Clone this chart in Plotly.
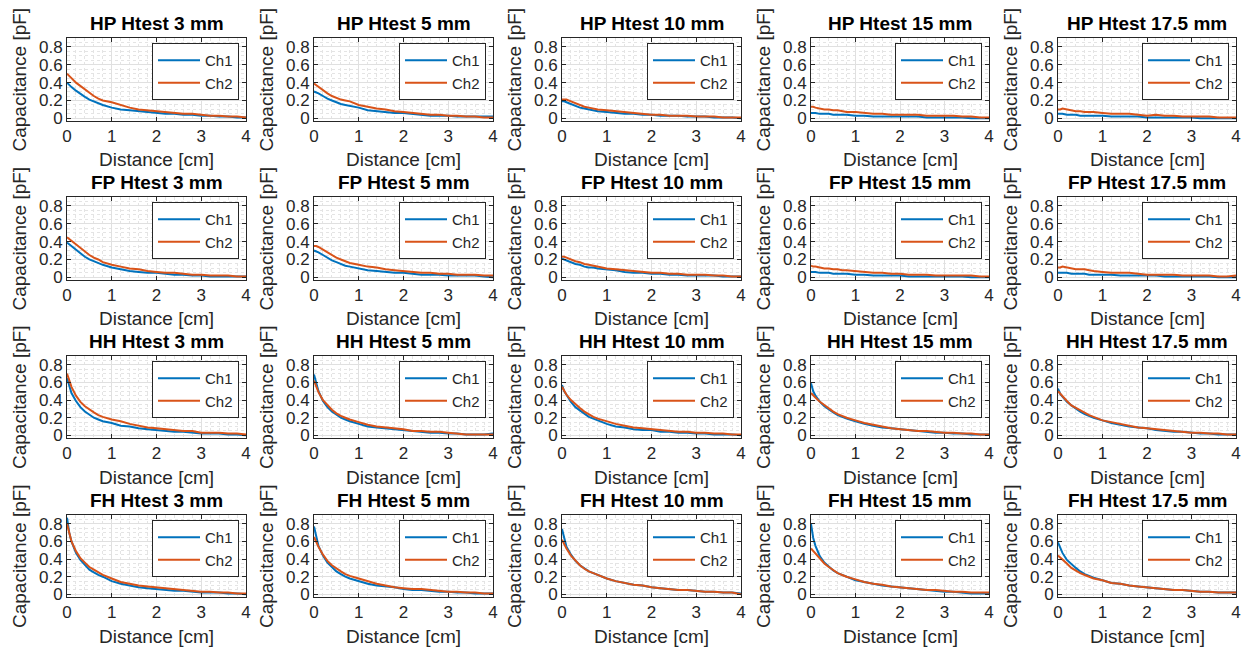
import plotly.graph_objects as go
from plotly.subplots import make_subplots

# ---------------- data ----------------
distance_cm = [0, 0.05, 0.1, 0.2, 0.3, 0.4, 0.5, 0.6, 0.7, 0.8, 1.0, 1.2, 1.4,
               1.6, 1.8, 2.0, 2.2, 2.4, 2.6, 2.8, 3.0, 3.2, 3.4, 3.6, 3.8, 4.0]

configs = ["HP", "FP", "HH", "FH"]
htests = ["3", "5", "10", "15", "17.5"]

# HP
hp_3_ch1 = [0.40,0.37,0.35,0.31,0.27,0.24,0.21,0.19,0.17,0.15,0.12,0.10,0.09,0.08,0.07,0.06,0.05,0.05,0.04,0.04,0.03,0.03,0.02,0.02,0.01,0.01]
hp_3_ch2 = [0.50,0.47,0.45,0.40,0.36,0.32,0.28,0.25,0.22,0.20,0.18,0.15,0.12,0.10,0.09,0.08,0.07,0.06,0.05,0.05,0.04,0.03,0.03,0.02,0.02,0.01]
hp_5_ch1 = [0.30,0.29,0.28,0.25,0.22,0.20,0.18,0.16,0.15,0.14,0.12,0.09,0.08,0.07,0.06,0.06,0.05,0.04,0.03,0.03,0.03,0.02,0.02,0.02,0.02,0.02]
hp_5_ch2 = [0.39,0.37,0.36,0.32,0.28,0.25,0.23,0.21,0.20,0.19,0.15,0.13,0.11,0.10,0.08,0.07,0.06,0.05,0.04,0.04,0.03,0.03,0.02,0.02,0.01,0.01]
hp_10_ch1 = [0.19,0.19,0.18,0.16,0.14,0.12,0.11,0.10,0.09,0.08,0.07,0.06,0.05,0.05,0.04,0.04,0.03,0.03,0.03,0.02,0.02,0.02,0.01,0.01,0.01,0.00]
hp_10_ch2 = [0.21,0.21,0.21,0.19,0.17,0.15,0.13,0.12,0.11,0.10,0.09,0.08,0.07,0.06,0.05,0.04,0.04,0.03,0.03,0.03,0.02,0.02,0.02,0.01,0.01,0.01]
hp_15_ch1 = [0.06,0.06,0.06,0.05,0.05,0.05,0.04,0.04,0.04,0.04,0.03,0.03,0.02,0.02,0.02,0.02,0.02,0.02,0.01,0.01,0.01,0.01,0.01,0.00,0.00,0.00]
hp_15_ch2 = [0.13,0.13,0.12,0.11,0.10,0.10,0.09,0.09,0.08,0.07,0.07,0.06,0.05,0.05,0.04,0.04,0.04,0.04,0.03,0.03,0.03,0.03,0.02,0.02,0.01,0.01]
hp_175_ch1 = [0.05,0.05,0.05,0.04,0.04,0.04,0.03,0.03,0.03,0.03,0.03,0.02,0.02,0.02,0.02,0.01,0.01,0.01,0.01,0.01,0.01,0.00,0.00,0.00,0.00,0.00]
hp_175_ch2 = [0.10,0.10,0.11,0.10,0.09,0.08,0.08,0.07,0.07,0.07,0.06,0.05,0.05,0.05,0.04,0.03,0.04,0.03,0.03,0.02,0.02,0.02,0.02,0.01,0.01,0.01]

# FP
fp_3_ch1 = [0.39,0.37,0.34,0.30,0.26,0.23,0.20,0.18,0.16,0.14,0.11,0.09,0.07,0.06,0.05,0.05,0.04,0.03,0.03,0.02,0.02,0.01,0.01,0.01,0.01,0.01]
fp_3_ch2 = [0.45,0.43,0.41,0.37,0.32,0.29,0.25,0.22,0.20,0.17,0.14,0.12,0.10,0.09,0.07,0.06,0.05,0.05,0.04,0.03,0.03,0.02,0.02,0.02,0.01,0.01]
fp_5_ch1 = [0.30,0.29,0.28,0.25,0.22,0.19,0.17,0.15,0.13,0.12,0.10,0.08,0.07,0.06,0.05,0.05,0.04,0.03,0.03,0.03,0.02,0.02,0.02,0.02,0.01,0.00]
fp_5_ch2 = [0.35,0.35,0.34,0.31,0.28,0.25,0.22,0.20,0.18,0.16,0.14,0.12,0.11,0.09,0.08,0.07,0.06,0.05,0.05,0.04,0.04,0.03,0.03,0.03,0.02,0.02]
fp_10_ch1 = [0.21,0.20,0.19,0.17,0.15,0.14,0.12,0.11,0.11,0.10,0.09,0.08,0.06,0.05,0.05,0.04,0.04,0.03,0.03,0.02,0.02,0.02,0.02,0.01,0.01,0.01]
fp_10_ch2 = [0.23,0.23,0.22,0.20,0.18,0.17,0.15,0.14,0.13,0.12,0.10,0.09,0.08,0.07,0.06,0.05,0.05,0.04,0.04,0.03,0.03,0.03,0.02,0.02,0.01,0.01]
fp_15_ch1 = [0.06,0.06,0.06,0.05,0.05,0.05,0.04,0.04,0.04,0.04,0.03,0.03,0.02,0.02,0.02,0.02,0.01,0.01,0.01,0.01,0.01,0.01,0.01,0.00,0.00,0.00]
fp_15_ch2 = [0.13,0.12,0.12,0.11,0.10,0.10,0.09,0.09,0.08,0.08,0.07,0.06,0.05,0.05,0.04,0.04,0.03,0.03,0.03,0.02,0.02,0.02,0.02,0.02,0.01,0.01]
fp_175_ch1 = [0.05,0.05,0.05,0.05,0.04,0.04,0.04,0.04,0.03,0.03,0.03,0.03,0.02,0.02,0.02,0.02,0.02,0.01,0.01,0.01,0.01,0.01,0.01,0.00,0.00,0.00]
fp_175_ch2 = [0.11,0.11,0.12,0.11,0.10,0.09,0.09,0.09,0.08,0.07,0.06,0.05,0.05,0.05,0.04,0.03,0.03,0.03,0.03,0.02,0.02,0.02,0.02,0.01,0.01,0.02]

# HH
hh_3_ch1 = [0.65,0.55,0.48,0.39,0.32,0.27,0.23,0.20,0.18,0.16,0.14,0.11,0.10,0.08,0.07,0.06,0.05,0.04,0.04,0.03,0.02,0.02,0.02,0.01,0.01,0.00]
hh_3_ch2 = [0.70,0.62,0.55,0.45,0.38,0.33,0.29,0.26,0.23,0.21,0.18,0.16,0.13,0.11,0.09,0.08,0.07,0.06,0.05,0.05,0.03,0.03,0.03,0.02,0.02,0.01]
hh_5_ch1 = [0.69,0.58,0.50,0.39,0.32,0.27,0.23,0.20,0.18,0.16,0.13,0.10,0.09,0.08,0.07,0.06,0.05,0.04,0.03,0.03,0.02,0.02,0.01,0.01,0.01,0.02]
hh_5_ch2 = [0.62,0.55,0.49,0.40,0.34,0.29,0.25,0.22,0.20,0.18,0.15,0.12,0.10,0.09,0.08,0.07,0.05,0.05,0.04,0.04,0.03,0.02,0.01,0.01,0.01,0.01]
hh_10_ch1 = [0.57,0.50,0.46,0.38,0.32,0.28,0.24,0.21,0.19,0.17,0.13,0.10,0.09,0.07,0.06,0.06,0.04,0.04,0.03,0.03,0.02,0.02,0.01,0.01,0.01,0.00]
hh_10_ch2 = [0.55,0.50,0.46,0.40,0.35,0.31,0.27,0.24,0.21,0.19,0.16,0.13,0.11,0.09,0.08,0.07,0.06,0.05,0.04,0.04,0.03,0.03,0.02,0.02,0.01,0.01]
hh_15_ch1 = [0.59,0.50,0.45,0.38,0.33,0.29,0.26,0.23,0.21,0.19,0.16,0.13,0.11,0.09,0.08,0.07,0.06,0.05,0.04,0.03,0.03,0.02,0.02,0.01,0.01,0.01]
hh_15_ch2 = [0.48,0.46,0.43,0.38,0.34,0.30,0.27,0.24,0.22,0.20,0.17,0.14,0.12,0.10,0.08,0.07,0.06,0.05,0.05,0.04,0.03,0.03,0.02,0.02,0.01,0.01]
hh_175_ch1 = [0.53,0.47,0.44,0.38,0.34,0.30,0.27,0.24,0.22,0.20,0.17,0.14,0.12,0.10,0.09,0.08,0.06,0.05,0.04,0.04,0.03,0.02,0.02,0.01,0.01,0.01]
hh_175_ch2 = [0.50,0.47,0.44,0.39,0.34,0.31,0.28,0.25,0.23,0.21,0.17,0.15,0.13,0.11,0.09,0.08,0.07,0.06,0.05,0.04,0.03,0.03,0.02,0.02,0.01,0.01]

# FH
fh_3_ch1 = [0.87,0.70,0.60,0.47,0.39,0.33,0.28,0.25,0.22,0.20,0.15,0.12,0.10,0.08,0.07,0.06,0.05,0.04,0.04,0.03,0.02,0.02,0.02,0.01,0.01,0.00]
fh_3_ch2 = [0.80,0.68,0.60,0.49,0.41,0.36,0.31,0.28,0.25,0.22,0.18,0.14,0.12,0.10,0.09,0.08,0.07,0.06,0.05,0.04,0.03,0.03,0.02,0.02,0.01,0.01]
fh_5_ch1 = [0.77,0.64,0.55,0.44,0.36,0.31,0.26,0.23,0.20,0.18,0.15,0.12,0.10,0.09,0.08,0.06,0.05,0.05,0.04,0.03,0.03,0.02,0.02,0.01,0.01,0.01]
fh_5_ch2 = [0.65,0.59,0.54,0.45,0.38,0.33,0.29,0.26,0.23,0.21,0.18,0.15,0.12,0.10,0.08,0.07,0.06,0.06,0.05,0.04,0.03,0.03,0.02,0.02,0.01,0.01]
fh_10_ch1 = [0.74,0.62,0.54,0.45,0.38,0.33,0.29,0.26,0.24,0.22,0.18,0.15,0.13,0.11,0.10,0.08,0.07,0.06,0.05,0.05,0.04,0.03,0.03,0.02,0.02,0.01]
fh_10_ch2 = [0.62,0.57,0.52,0.44,0.38,0.33,0.29,0.26,0.24,0.22,0.18,0.15,0.13,0.11,0.10,0.08,0.07,0.06,0.05,0.05,0.04,0.03,0.03,0.02,0.02,0.00]
fh_15_ch1 = [0.80,0.64,0.55,0.43,0.36,0.31,0.27,0.24,0.22,0.20,0.16,0.14,0.12,0.10,0.09,0.08,0.07,0.06,0.05,0.04,0.03,0.03,0.02,0.01,0.01,0.01]
fh_15_ch2 = [0.52,0.49,0.46,0.40,0.35,0.31,0.27,0.24,0.22,0.20,0.17,0.14,0.12,0.11,0.09,0.08,0.07,0.06,0.05,0.05,0.04,0.03,0.03,0.02,0.02,0.02]
fh_175_ch1 = [0.59,0.52,0.47,0.39,0.34,0.30,0.26,0.23,0.21,0.19,0.16,0.13,0.12,0.10,0.09,0.08,0.07,0.06,0.05,0.05,0.04,0.03,0.03,0.02,0.02,0.02]
fh_175_ch2 = [0.44,0.42,0.40,0.35,0.30,0.27,0.24,0.22,0.20,0.18,0.16,0.13,0.12,0.10,0.09,0.08,0.07,0.06,0.05,0.05,0.04,0.03,0.03,0.02,0.02,0.02]

series = {
    "HP": [(hp_3_ch1, hp_3_ch2), (hp_5_ch1, hp_5_ch2), (hp_10_ch1, hp_10_ch2), (hp_15_ch1, hp_15_ch2), (hp_175_ch1, hp_175_ch2)],
    "FP": [(fp_3_ch1, fp_3_ch2), (fp_5_ch1, fp_5_ch2), (fp_10_ch1, fp_10_ch2), (fp_15_ch1, fp_15_ch2), (fp_175_ch1, fp_175_ch2)],
    "HH": [(hh_3_ch1, hh_3_ch2), (hh_5_ch1, hh_5_ch2), (hh_10_ch1, hh_10_ch2), (hh_15_ch1, hh_15_ch2), (hh_175_ch1, hh_175_ch2)],
    "FH": [(fh_3_ch1, fh_3_ch2), (fh_5_ch1, fh_5_ch2), (fh_10_ch1, fh_10_ch2), (fh_15_ch1, fh_15_ch2), (fh_175_ch1, fh_175_ch2)],
}

x_ticks = [0, 1, 2, 3, 4]
y_ticks = [0, 0.2, 0.4, 0.6, 0.8]
y_tick_labels = ["0", "0.2", "0.4", "0.6", "0.8"]
x_label = "Distance [cm]"
y_label = "Capacitance [pF]"

# ---------------- layout ----------------
W, H = 1245, 654
col_px = [(67, 246), (314, 493), (562, 741), (811, 989), (1058, 1236)]
row_px = [(38, 121), (197, 280), (356, 438), (515, 597)]

C1 = "#0072BD"
C2 = "#D95319"
AX = "#262626"
FONT = "Liberation Sans, Arial, Helvetica, sans-serif"

fig = make_subplots(rows=4, cols=5)
annotations = []
layout_updates = {}

for r, cfg in enumerate(configs):
    for c, ht in enumerate(htests):
        idx = r * 5 + c + 1
        ch1, ch2 = series[cfg][c]
        lg = "legend" if idx == 1 else f"legend{idx}"
        fig.add_trace(go.Scatter(x=distance_cm, y=ch1, mode="lines", name="Ch1",
                                 line=dict(color=C1, width=2), legend=lg),
                      row=r + 1, col=c + 1)
        fig.add_trace(go.Scatter(x=distance_cm, y=ch2, mode="lines", name="Ch2",
                                 line=dict(color=C2, width=2), legend=lg),
                      row=r + 1, col=c + 1)

        x0, x1 = col_px[c]
        top, bot = row_px[r]
        xd = [x0 / W, x1 / W]
        yd = [1 - bot / H, 1 - top / H]
        sfx = "" if idx == 1 else str(idx)
        layout_updates[f"xaxis{sfx}"] = dict(
            domain=xd, range=[0, 4], tickvals=x_ticks, ticktext=[str(t) for t in x_ticks],
            automargin=False,
            showline=True, mirror="ticks", linecolor=AX, linewidth=1,
            ticks="inside", ticklen=4, tickcolor=AX,
            showgrid=True, gridcolor="#E0E0E0", gridwidth=1, zeroline=False,
            minor=dict(dtick=0.2, showgrid=True, gridcolor="#E4E4E4", griddash="dot", gridwidth=1),
            tickfont=dict(size=17, color=AX, family=FONT),
        )
        layout_updates[f"yaxis{sfx}"] = dict(
            domain=yd, range=[-0.03, 0.9], tickvals=y_ticks, ticktext=y_tick_labels,
            automargin=False,
            showline=True, mirror="ticks", linecolor=AX, linewidth=1,
            ticks="inside", ticklen=4, tickcolor=AX,
            showgrid=True, gridcolor="#E0E0E0", gridwidth=1, zeroline=False,
            minor=dict(dtick=0.05, tick0=0, showgrid=True, gridcolor="#E4E4E4", griddash="dot", gridwidth=1),
            tickfont=dict(size=17, color=AX, family=FONT),
        )
        layout_updates[lg] = dict(
            x=(x1 - 7) / W, y=1 - (top + 5) / H, xanchor="right", yanchor="top",
            bgcolor="white", bordercolor=AX, borderwidth=1, itemwidth=42,
            font=dict(size=15, color=AX, family=FONT), tracegroupgap=0,
        )
        # subplot title
        annotations.append(dict(
            text=f"<b>{cfg} Htest {ht} mm</b>", x=(x0 + x1) / 2 / W, y=1 - top / H,
            xref="paper", yref="paper", xanchor="center", yanchor="bottom",
            yshift=2, showarrow=False, font=dict(size=19, color="black", family=FONT),
        ))
        # x axis title
        annotations.append(dict(
            text=x_label, x=(x0 + x1) / 2 / W, y=1 - (bot + 39) / H,
            xref="paper", yref="paper", xanchor="center", yanchor="middle",
            showarrow=False, font=dict(size=19, color=AX, family=FONT),
        ))
        # y axis title
        annotations.append(dict(
            text=y_label, x=(x0 - 48) / W, y=1 - (top + bot) / 2 / H,
            xref="paper", yref="paper", xanchor="center", yanchor="middle",
            textangle=-90, showarrow=False, font=dict(size=19, color=AX, family=FONT),
        ))

fig.update_layout(**layout_updates)
fig.update_layout(
    width=W, height=H, margin=dict(l=0, r=0, t=0, b=0),
    paper_bgcolor="white", plot_bgcolor="white",
    annotations=annotations, showlegend=True,
    font=dict(family=FONT, color=AX),
)

fig.write_html("out.html", config={"displayModeBar": False},
               post_script="document.body.style.margin='0';document.body.style.padding='0';")
